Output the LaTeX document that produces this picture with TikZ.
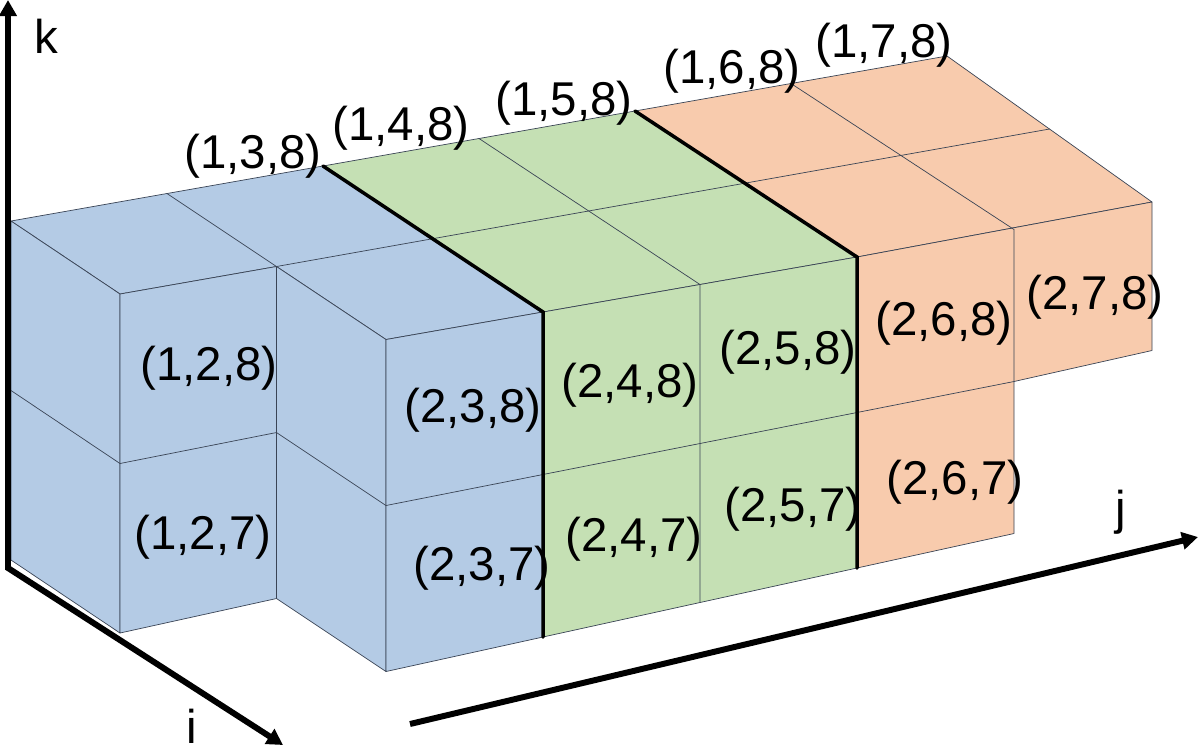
\documentclass[tikz,border=0pt]{standalone}
\usepackage{fontspec}
\setmainfont{Liberation Sans}
\usetikzlibrary{arrows.meta}

\definecolor{cubeblue}{HTML}{B4CBE5}
\definecolor{cubegreen}{HTML}{C5E0B4}
\definecolor{cubeorange}{HTML}{F8CBAD}
\definecolor{edgegray}{HTML}{3A4455}

\begin{document}
\begin{tikzpicture}[x=0.02cm, y=-0.02cm]
  \tikzstyle{face}=[draw=edgegray, line width=0.4pt, line join=round]
  \tikzstyle{grid}=[draw=edgegray, line width=0.4pt]
  \tikzstyle{seam}=[line width=2pt, line cap=round]
  \tikzstyle{axis}=[line width=3.4pt, -{Triangle[length=3.2mm,width=3.4mm]}]
  \tikzstyle{lab}=[inner sep=0pt, anchor=base, font=\fontsize{27}{30}\selectfont]
  \useasboundingbox (0,0) rectangle (1200,752);

  % corners of the cube grid
  \foreach \i in {0,1,2}
    \foreach \j in {0,...,6}
      \foreach \k in {0,1,2}
        \coordinate (p\i\j\k) at ({11+109*\i+156*\j+0.5*\i*\j-9.5*\i*max(0,\j-5)},
                                  {221+73*\i-27.5*\j+(2-\k)*(169.5-3.5*\j)});

  % blue block
  \filldraw[face, fill=cubeblue] (p002) -- (p022) -- (p222) -- (p212) -- (p112) -- (p102) -- cycle;
  \filldraw[face, fill=cubeblue] (p002) -- (p102) -- (p100) -- (p000) -- cycle;
  \filldraw[face, fill=cubeblue] (p102) -- (p112) -- (p110) -- (p100) -- cycle;
  \filldraw[face, fill=cubeblue] (p112) -- (p212) -- (p210) -- (p110) -- cycle;
  \filldraw[face, fill=cubeblue] (p212) -- (p222) -- (p220) -- (p210) -- cycle;
  % green block
  \filldraw[face, fill=cubegreen] (p022) -- (p042) -- (p242) -- (p222) -- cycle;
  \filldraw[face, fill=cubegreen] (p222) -- (p242) -- (p240) -- (p220) -- cycle;
  % orange block
  \filldraw[face, fill=cubeorange] (p042) -- (p062) -- (p262) -- (p242) -- cycle;
  \filldraw[face, fill=cubeorange] (p242) -- (p262) -- (p261) -- (p251) -- (p250) -- (p240) -- cycle;

  % cube edges
  \draw[grid] (p012) -- (p112) -- (p162);
  \draw[grid] (p032) -- (p232) -- (p230);
  \draw[grid] (p052) -- (p252) -- (p251);
  \draw[grid] (p001) -- (p101) -- (p111) -- (p211) -- (p251);

  % block borders
  \draw[seam] (p022) -- (p222) -- (p220);
  \draw[seam] (p042) -- (p242) -- (p240);

  % axes
  \coordinate (corner) at (8,568);
  \coordinate (ktip) at (8,0);
  \coordinate (itip) at (283,745);
  \coordinate (jstart) at (410,724);
  \coordinate (jtip) at (1198,537);
  \draw[axis, {Triangle[length=3.2mm,width=3.4mm]}-{Triangle[length=3.2mm,width=3.4mm]}] (ktip) -- (corner) -- (itip);
  \draw[axis] (jstart) -- (jtip);
  \node[lab] (klab) at (46,53) {k};
  \node[lab] (ilab) at (192,743) {i};
  \node[lab] (jlab) at (1121,524) {j};

  % cell labels
  \foreach \a/\b/\c/\px/\py in {1/3/8/253/168, 1/4/8/401/140, 1/5/8/564/115,
      1/6/8/732/83, 1/7/8/884/57, 1/2/8/209/380, 1/2/7/203/549,
      2/3/8/473/422, 2/3/7/482/580, 2/4/8/630/397, 2/4/7/634/551,
      2/5/8/788/364, 2/5/7/793/521, 2/6/8/944/335, 2/6/7/955/494,
      2/7/8/1095/309}
    \node[lab] (c\a\b\c) at (\px,\py) {(\a,\b,\c)};
\end{tikzpicture}
\end{document}
